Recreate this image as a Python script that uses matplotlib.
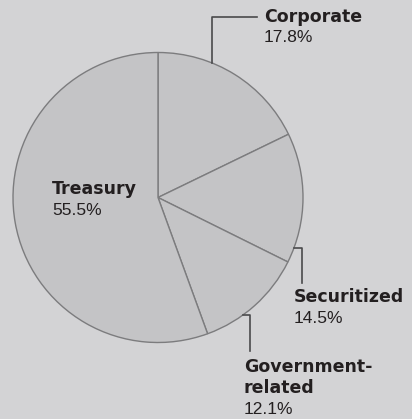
import numpy as np
import matplotlib
matplotlib.use("Agg")
import matplotlib.pyplot as plt

# Sector weights, clockwise from 12 o'clock
sectors = ["Corporate", "Securitized", "Government-\nrelated", "Treasury"]
weights = [17.8, 14.5, 12.1, 55.5]

W, H = 412, 419
bg = "#d3d3d5"
fill = "#c4c4c6"
edge = "#7c7c7e"
ink = "#231f20"

fig = plt.figure(figsize=(W / 100, H / 100), dpi=100, facecolor=bg)
ax = fig.add_axes([0, 0, 1, 1])
ax.set_facecolor(bg)

cx, cy, r = 158, 197.5, 145
# y axis runs downward (pixel-style), so the angles are mirrored:
# startangle -90 is 12 o'clock and counterclock turns clockwise on screen
wedges, _ = ax.pie(weights, startangle=-90, counterclock=True,
                   center=(cx, cy), radius=r, frame=True,
                   colors=[fill] * 4,
                   wedgeprops=dict(edgecolor=edge, linewidth=1.0))
ax.set_xlim(0, W)
ax.set_ylim(H, 0)
ax.axis("off")

name_font = dict(family=["DejaVu Sans"], fontsize=12.5, fontweight="bold")
val_font = dict(family=["Liberation Sans", "DejaVu Sans"], fontsize=12.5)
step = 21


def edge_pt(deg):
    a = np.deg2rad(deg)
    return cx + r * np.cos(a), cy - r * np.sin(a)


# leader lines: elbow from the rim to the label
lc = "#4a4a4c"
x0, y0 = edge_pt(68)
ax.plot([x0, x0, 257], [y0, 17, 17], color=lc, lw=1.2)
x0, y0 = edge_pt(-20.3)
ax.plot([x0, 302, 302], [y0, y0, 283], color=lc, lw=1.2)
x0, y0 = edge_pt(-54.3)
ax.plot([x0, 250, 250], [y0, y0, 351], color=lc, lw=1.2)

label_pos = [(264, 17), (294, 297), (244, 367), (52, 189)]
for name, val, (tx, ty) in zip(sectors, weights, label_pos):
    lines = name.split("\n")
    for i, ln in enumerate(lines):
        ax.text(tx, ty + step * i, ln, color=ink, va="center", ha="left",
                **name_font)
    ax.text(tx, ty + step * len(lines), f"{val}%", color=ink,
            va="center", ha="left", **val_font)

fig.savefig("out.png", dpi=100, facecolor=bg)
